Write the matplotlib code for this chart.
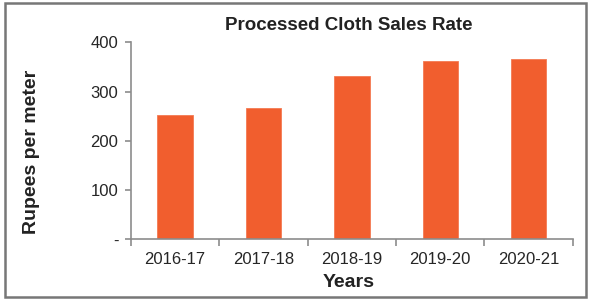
import matplotlib
matplotlib.use("Agg")
import matplotlib.pyplot as plt
from matplotlib.patches import Rectangle
import numpy as np

years = ["2016-17", "2017-18", "2018-19", "2019-20", "2020-21"]
rates = [252, 267, 331, 362, 366]
yticks = [0, 100, 200, 300, 400]
ytick_labels = ["-", "100", "200", "300", "400"]

plt.rcParams['font.family'] = ['Liberation Sans', 'DejaVu Sans']

fig = plt.figure(figsize=(5.90, 2.99), dpi=100)
ax = fig.add_axes([0.222, 0.199, 0.7487, 0.6595])

x = np.arange(len(years))
ax.bar(x, rates, width=0.4, color="#F15E2E", edgecolor="#F47A52", linewidth=0.6)

ax.set_xlim(-0.5, len(years) - 0.5)
ax.set_ylim(0, 400)
ax.set_yticks(yticks)
ax.set_yticklabels(ytick_labels)
ax.set_xticks(x)
ax.set_xticklabels(years)
ax.set_xticks(np.arange(len(years) + 1) - 0.5, minor=True)

for s in ["top", "right"]:
    ax.spines[s].set_visible(False)
for s in ["left", "bottom"]:
    ax.spines[s].set_color("#8c8c8c")
    ax.spines[s].set_linewidth(1.2)

ax.tick_params(axis="x", which="major", length=0, pad=9, labelsize=12, labelcolor="#262626")
ax.tick_params(axis="x", which="minor", length=5, width=1.2, color="#8c8c8c", direction="out")
ax.tick_params(axis="y", length=4, width=1.2, color="#8c8c8c", pad=5, labelsize=12, labelcolor="#262626")

fig.text(0.5915, 0.916, "Processed Cloth Sales Rate", fontsize=13.5, fontweight="bold",
         color="#222222", ha="center", va="center")
fig.text(0.5915, 0.055, "Years", fontsize=14, fontweight="bold", color="#222222",
         ha="center", va="center")
fig.text(0.054, 0.492, "Rupees per meter", fontsize=14, fontweight="bold", color="#222222",
         ha="center", va="center", rotation=90)

fig.patches.append(Rectangle((0.009, 0.008), 0.985, 0.982, transform=fig.transFigure,
                             fill=False, edgecolor="#777777", linewidth=1.8))

fig.savefig("out.png", dpi=100)
